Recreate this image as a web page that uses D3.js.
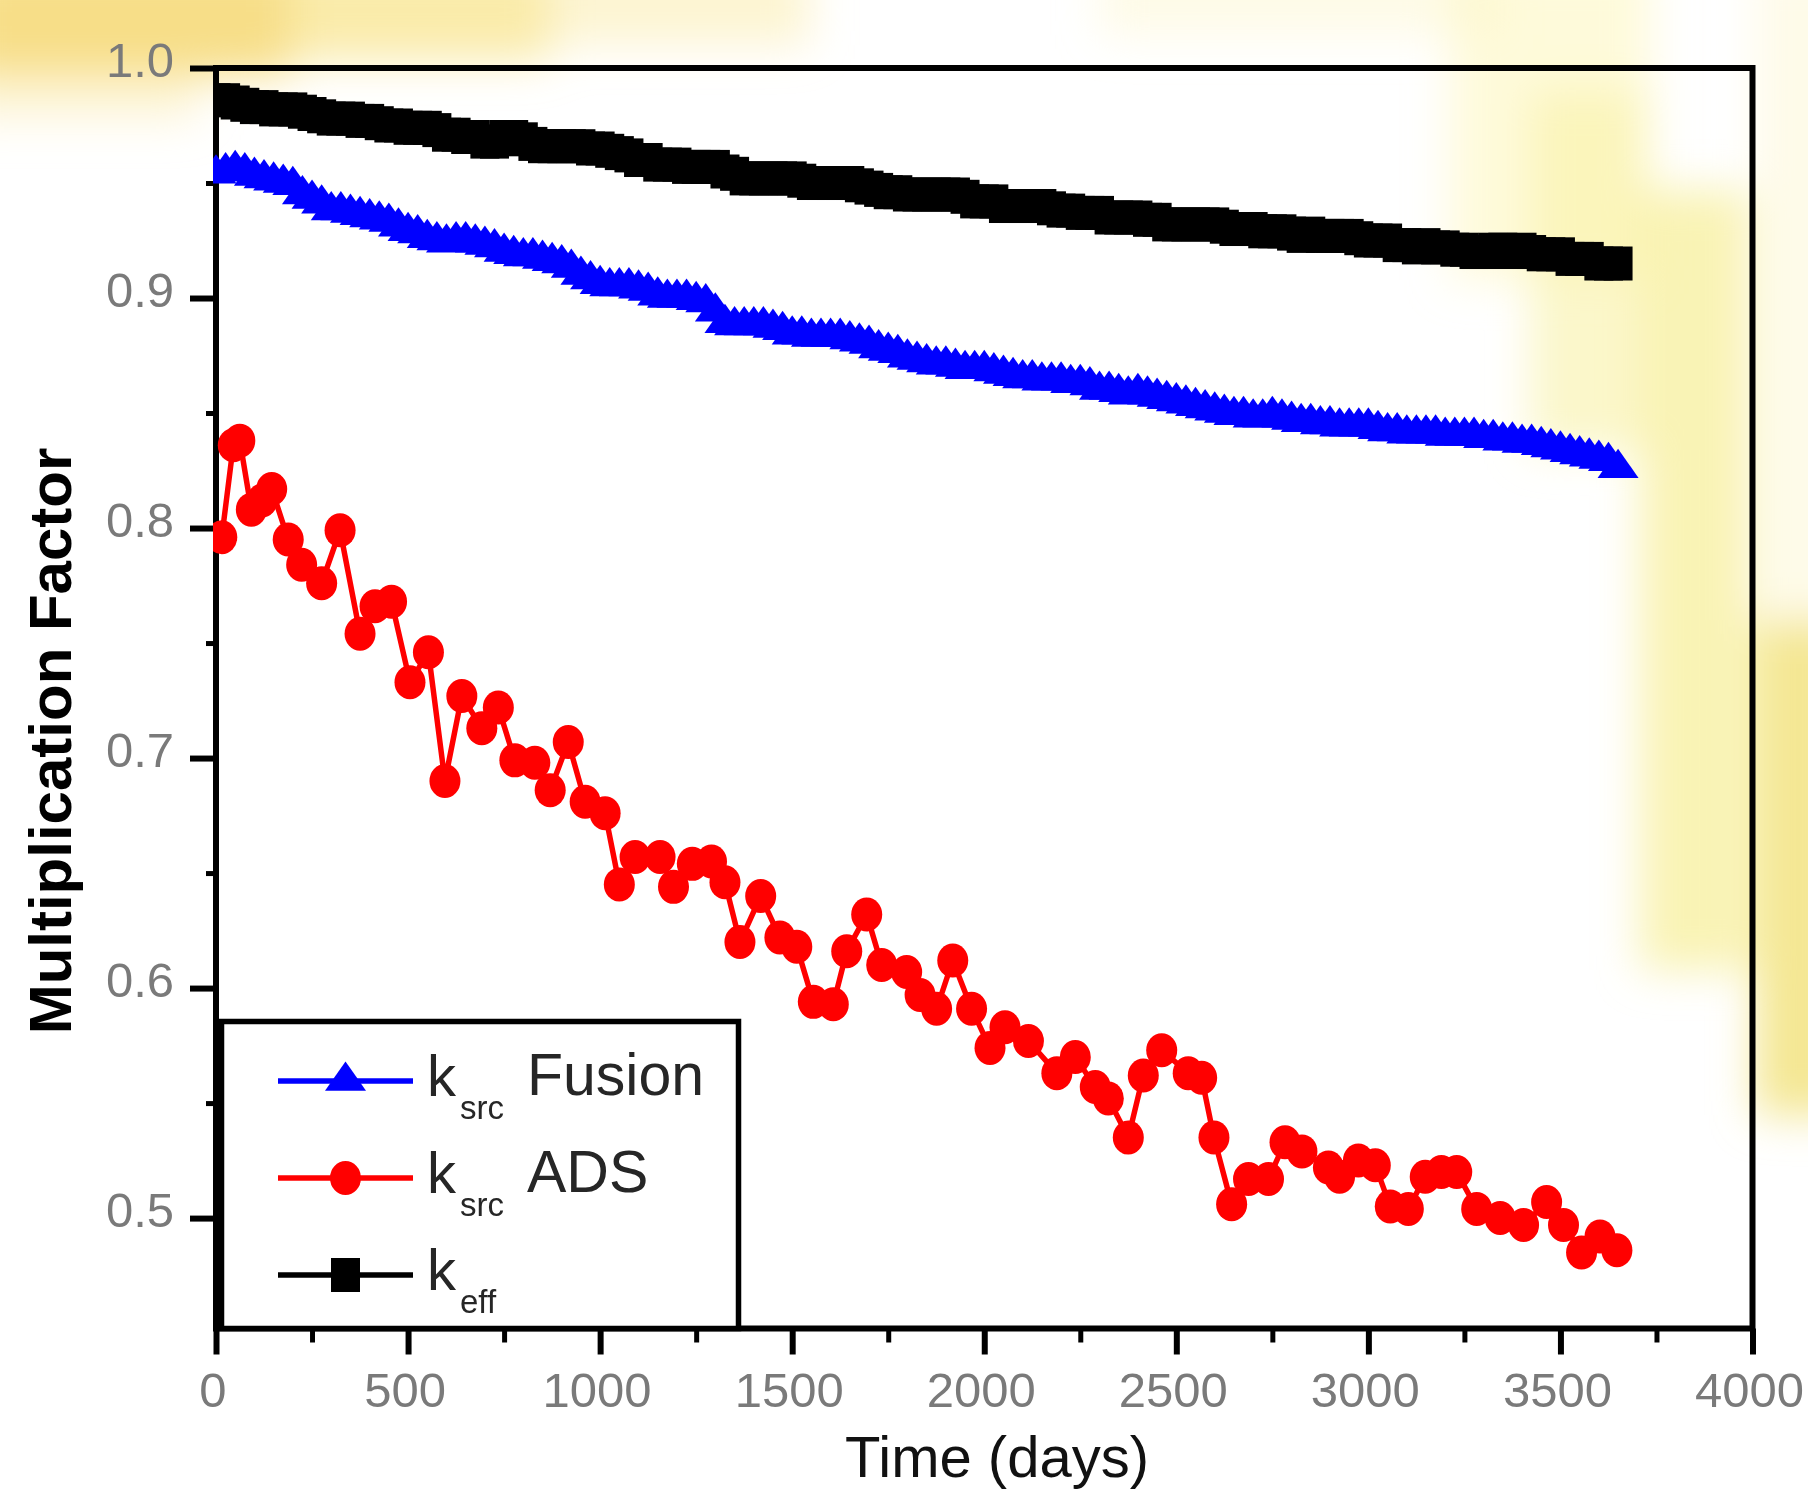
<!DOCTYPE html>
<html>
<head>
<meta charset="utf-8">
<title>Multiplication factor vs time</title>
<script src="https://cdn.jsdelivr.net/npm/d3@7/dist/d3.min.js"></script>
<style>
  html, body { margin: 0; padding: 0; background: #fff; }
  svg { display: block; }
  text { font-family: "Liberation Sans", Arial, "DejaVu Sans", sans-serif; }
</style>
</head>
<body>
<svg id="chart" width="1808" height="1491"></svg>
<script>
// ---------------- data ----------------
// burn-up time steps (days) for k_eff and k_src (fusion)
const days = [
  0, 25, 50, 75, 100, 125, 150, 175,
  200, 225, 250, 275, 300, 325, 350, 375,
  400, 425, 450, 475, 500, 525, 550, 575,
  600, 625, 650, 675, 700, 725, 750, 775,
  800, 825, 850, 875, 900, 925, 950, 975,
  1000, 1025, 1050, 1075, 1100, 1125, 1150, 1175,
  1200, 1225, 1250, 1275, 1300, 1325, 1350, 1375,
  1400, 1425, 1450, 1475, 1500, 1525, 1550, 1575,
  1600, 1625, 1650, 1675, 1700, 1725, 1750, 1775,
  1800, 1825, 1850, 1875, 1900, 1925, 1950, 1975,
  2000, 2025, 2050, 2075, 2100, 2125, 2150, 2175,
  2200, 2225, 2250, 2275, 2300, 2325, 2350, 2375,
  2400, 2425, 2450, 2475, 2500, 2525, 2550, 2575,
  2600, 2625, 2650, 2675, 2700, 2725, 2750, 2775,
  2800, 2825, 2850, 2875, 2900, 2925, 2950, 2975,
  3000, 3025, 3050, 3075, 3100, 3125, 3150, 3175,
  3200, 3225, 3250, 3275, 3300, 3325, 3350, 3375,
  3400, 3425, 3450, 3475, 3500, 3525, 3550, 3575,
  3600, 3625, 3650];

const kEff = [
  0.986, 0.986, 0.985, 0.984, 0.983, 0.983, 0.982, 0.982,
  0.982, 0.981, 0.980, 0.979, 0.978, 0.978, 0.978, 0.977,
  0.977, 0.976, 0.975, 0.975, 0.974, 0.974, 0.974, 0.973,
  0.971, 0.971, 0.970, 0.970, 0.968, 0.968, 0.970, 0.970,
  0.969, 0.967, 0.966, 0.966, 0.966, 0.966, 0.966, 0.965,
  0.965, 0.964, 0.963, 0.962, 0.960, 0.960, 0.958, 0.958,
  0.958, 0.957, 0.957, 0.957, 0.957, 0.955, 0.954, 0.952,
  0.952, 0.952, 0.952, 0.952, 0.952, 0.951, 0.950, 0.950,
  0.950, 0.950, 0.950, 0.949, 0.948, 0.947, 0.946, 0.946,
  0.945, 0.945, 0.945, 0.945, 0.945, 0.945, 0.944, 0.942,
  0.942, 0.942, 0.940, 0.940, 0.940, 0.940, 0.940, 0.939,
  0.938, 0.938, 0.937, 0.937, 0.937, 0.935, 0.935, 0.935,
  0.935, 0.934, 0.934, 0.932, 0.932, 0.932, 0.932, 0.932,
  0.932, 0.931, 0.930, 0.930, 0.930, 0.929, 0.929, 0.929,
  0.928, 0.927, 0.928, 0.927, 0.927, 0.927, 0.927, 0.926,
  0.925, 0.925, 0.925, 0.923, 0.923, 0.922, 0.923, 0.922,
  0.922, 0.921, 0.921, 0.920, 0.920, 0.921, 0.921, 0.920,
  0.921, 0.920, 0.919, 0.919, 0.919, 0.917, 0.917, 0.917,
  0.915, 0.915, 0.915];

const kSrcFusion = [
  0.954, 0.955, 0.956, 0.955, 0.953, 0.952, 0.951, 0.950,
  0.949, 0.945, 0.943, 0.941, 0.938, 0.938, 0.937, 0.936,
  0.935, 0.934, 0.933, 0.931, 0.929, 0.928, 0.926, 0.925,
  0.924, 0.925, 0.925, 0.924, 0.923, 0.922, 0.920, 0.919,
  0.918, 0.918, 0.917, 0.916, 0.915, 0.913, 0.910, 0.908,
  0.906, 0.905, 0.905, 0.905, 0.904, 0.903, 0.901, 0.900,
  0.900, 0.900, 0.899, 0.898, 0.894, 0.889, 0.888, 0.888,
  0.888, 0.888, 0.887, 0.886, 0.884, 0.884, 0.883, 0.883,
  0.883, 0.883, 0.882, 0.881, 0.880, 0.878, 0.877, 0.876,
  0.874, 0.873, 0.872, 0.871, 0.871, 0.870, 0.869, 0.869,
  0.869, 0.868, 0.867, 0.866, 0.865, 0.865, 0.864, 0.864,
  0.864, 0.863, 0.863, 0.862, 0.860, 0.860, 0.859, 0.858,
  0.859, 0.858, 0.857, 0.856, 0.855, 0.854, 0.853, 0.852,
  0.851, 0.850, 0.849, 0.849, 0.848, 0.848, 0.849, 0.848,
  0.847, 0.846, 0.846, 0.845, 0.845, 0.844, 0.844, 0.844,
  0.844, 0.843, 0.842, 0.842, 0.841, 0.841, 0.841, 0.841,
  0.840, 0.840, 0.840, 0.840, 0.839, 0.839, 0.838, 0.838,
  0.837, 0.837, 0.836, 0.835, 0.834, 0.833, 0.832, 0.831,
  0.830, 0.829, 0.826];

// k_src for the ADS, sampled on its own time steps (days)
const adsDays = [15, 45, 62, 92, 120, 145, 188, 223, 275, 323, 375, 414, 457, 505, 553, 596,
  640, 692, 735, 778, 830, 870, 917, 961, 1013, 1050, 1091, 1156, 1191, 1240, 1290, 1325,
  1364, 1418, 1468, 1512, 1555, 1607, 1642, 1694, 1733, 1798, 1833, 1876, 1918, 1967, 2015,
  2054, 2115, 2189, 2237, 2289, 2323, 2375, 2414, 2462, 2531, 2566, 2598, 2644, 2688, 2740,
  2783, 2827, 2896, 2925, 2974, 3018, 3057, 3104, 3148, 3190, 3230, 3282, 3343, 3404, 3464,
  3508, 3555, 3603, 3647];

const kSrcADS = [0.796, 0.836, 0.838, 0.808, 0.812, 0.817, 0.795, 0.784, 0.776, 0.799, 0.754,
  0.766, 0.768, 0.733, 0.746, 0.690, 0.727, 0.713, 0.722, 0.699, 0.698, 0.686, 0.707, 0.681,
  0.676, 0.645, 0.657, 0.657, 0.644, 0.654, 0.655, 0.646, 0.620, 0.640, 0.622, 0.618, 0.594,
  0.593, 0.616, 0.632, 0.610, 0.607, 0.597, 0.591, 0.612, 0.591, 0.574, 0.583, 0.577, 0.563,
  0.570, 0.557, 0.552, 0.535, 0.562, 0.573, 0.563, 0.561, 0.535, 0.506, 0.517, 0.517, 0.533,
  0.529, 0.522, 0.518, 0.525, 0.523, 0.505, 0.504, 0.518, 0.520, 0.520, 0.504, 0.500, 0.497,
  0.507, 0.497, 0.485, 0.492, 0.486];

const xTickValues = [0, 500, 1000, 1500, 2000, 2500, 3000, 3500, 4000];
const xMinorValues = [250, 750, 1250, 1750, 2250, 2750, 3250, 3750];
const yTickValues = [0.5, 0.6, 0.7, 0.8, 0.9, 1.0];
const yMinorValues = [0.55, 0.65, 0.75, 0.85, 0.95];

const legendSubs = ["src", "src", "eff"];
const legendNames = ["Fusion", "ADS", ""];

// ---------------- layout ----------------
const svg = d3.select("#chart");
const frame = { left: 216, right: 1752.5, top: 68, bottom: 1328.5 };

const x = d3.scaleLinear().domain([0, 4000]).range([frame.left, frame.right]);
const y = d3.scaleLinear().domain([0.452, 1.0]).range([frame.bottom, frame.top]);

// ---------------- soft yellow tint of the paper ----------------
const defs = svg.append("defs");
defs.append("filter").attr("id", "soft")
  .attr("filterUnits", "userSpaceOnUse")
  .attr("x", -200).attr("y", -200).attr("width", 2300).attr("height", 1900)
  .append("feGaussianBlur").attr("stdDeviation", 22);
defs.append("clipPath").attr("id", "plotClip")
  .append("rect")
  .attr("x", frame.left - 3).attr("y", frame.top - 3)
  .attr("width", frame.right - frame.left + 6).attr("height", frame.bottom - frame.top + 6);

const tint = svg.append("g").attr("filter", "url(#soft)");
[
  [-40, -40, 330, 115, "#f6d873", 0.85],
  [290, -40, 260, 100, "#f8e285", 0.7],
  [550, -40, 260, 85, "#fbeca5", 0.5],
  [-40, 75, 240, 45, "#fbe9a8", 0.45],
  [1100, -40, 400, 75, "#fdf7cf", 0.5],
  [1450, -40, 200, 320, "#fdf7c6", 0.65],
  [1530, 90, 115, 360, "#f9f1a6", 0.6],
  [1640, 190, 110, 780, "#f6ee96", 0.7],
  [1756, -40, 90, 660, "#fdfae0", 0.7],
  [1756, 620, 90, 495, "#f2e37f", 0.85]
].forEach(([px, py, w, h, c, o]) => {
  tint.append("rect").attr("x", px).attr("y", py).attr("width", w).attr("height", h)
    .attr("fill", c).attr("opacity", o);
});

// ---------------- axes ----------------
// bottom axis: major and minor ticks pointing outward
svg.append("g")
  .attr("transform", `translate(0,${frame.bottom})`)
  .call(d3.axisBottom(x).tickValues(xTickValues).tickSize(26).tickSizeOuter(0).tickFormat(""))
  .call(g => g.select(".domain").remove())
  .call(g => g.selectAll(".tick line").attr("stroke", "#000").attr("stroke-width", 6));
svg.append("g")
  .attr("transform", `translate(0,${frame.bottom})`)
  .call(d3.axisBottom(x).tickValues(xMinorValues).tickSize(14).tickSizeOuter(0).tickFormat(""))
  .call(g => g.select(".domain").remove())
  .call(g => g.selectAll(".tick line").attr("stroke", "#000").attr("stroke-width", 5));

// left axis
svg.append("g")
  .attr("transform", `translate(${frame.left},0)`)
  .call(d3.axisLeft(y).tickValues(yTickValues).tickSize(26).tickSizeOuter(0).tickFormat(""))
  .call(g => g.select(".domain").remove())
  .call(g => g.selectAll(".tick line").attr("stroke", "#000").attr("stroke-width", 6));
svg.append("g")
  .attr("transform", `translate(${frame.left},0)`)
  .call(d3.axisLeft(y).tickValues(yMinorValues).tickSize(10).tickSizeOuter(0).tickFormat(""))
  .call(g => g.select(".domain").remove())
  .call(g => g.selectAll(".tick line").attr("stroke", "#000").attr("stroke-width", 5));

// frame
svg.append("rect")
  .attr("x", frame.left).attr("y", frame.top)
  .attr("width", frame.right - frame.left).attr("height", frame.bottom - frame.top)
  .attr("fill", "none").attr("stroke", "#000").attr("stroke-width", 6);

// tick labels
svg.append("g").selectAll("text").data(xTickValues).join("text")
  .attr("x", d => x(d) - 3).attr("y", 1407)
  .attr("text-anchor", "middle").attr("font-size", 49).attr("fill", "#7a7a7a")
  .text(d => d);
svg.append("g").selectAll("text").data(yTickValues).join("text")
  .attr("x", 174).attr("y", d => y(d) + 8.5)
  .attr("text-anchor", "end").attr("font-size", 49).attr("fill", "#7a7a7a")
  .text(d3.format(".1f"));

// axis titles
svg.append("text")
  .attr("x", 997).attr("y", 1477)
  .attr("text-anchor", "middle").attr("font-size", 58).attr("fill", "#111")
  .text("Time (days)");
svg.append("text")
  .attr("transform", "translate(71,741) rotate(-90)")
  .attr("text-anchor", "middle").attr("font-size", 60).attr("font-weight", "bold")
  .attr("fill", "#000")
  .text("Multiplication Factor");

// ---------------- series ----------------
const markerShapes = {
  triangle: sel => sel.append("path").attr("d", "M0,-19.5L20.5,9.75L-20.5,9.75Z"),
  circle: sel => sel.append("ellipse").attr("rx", 15.5).attr("ry", 17),
  square: sel => sel.append("rect").attr("x", -14.5).attr("y", -17).attr("width", 29).attr("height", 34)
};

const series = [
  { t: days, v: kSrcFusion, color: "#0000ff", shape: "triangle" },
  { t: adsDays, v: kSrcADS, color: "#ff0000", shape: "circle" },
  { t: days, v: kEff, color: "#000000", shape: "square" }
];

const dataG = svg.append("g").attr("clip-path", "url(#plotClip)");
const line = d3.line().x(d => x(d[0])).y(d => y(d[1]));

series.forEach(s => {
  const pts = s.t.map((t, i) => [t, s.v[i]]);
  const g = dataG.append("g");
  g.append("path").datum(pts)
    .attr("d", line).attr("fill", "none")
    .attr("stroke", s.color).attr("stroke-width", 5.5).attr("stroke-linejoin", "miter");
  g.selectAll("g.mk").data(pts).join("g")
    .attr("class", "mk")
    .attr("transform", d => `translate(${x(d[0])},${y(d[1])})`)
    .each(function () { markerShapes[s.shape](d3.select(this)); })
    .selectAll("*").attr("fill", s.color);
});

// ---------------- legend ----------------
const legend = svg.append("g");
legend.append("rect")
  .attr("x", 221.5).attr("y", 1021.5).attr("width", 517).attr("height", 307)
  .attr("fill", "#fff").attr("stroke", "#000").attr("stroke-width", 5.5);

series.forEach((s, i) => {
  const ry = 1081 + i * 97;
  const row = legend.append("g");
  row.append("line")
    .attr("x1", 278).attr("x2", 413).attr("y1", ry).attr("y2", ry)
    .attr("stroke", s.color).attr("stroke-width", 5.5);
  const mk = row.append("g").attr("transform", `translate(345.5,${ry})`);
  markerShapes[s.shape](mk);
  mk.selectAll("*").attr("fill", s.color);
  row.append("text").attr("x", 427).attr("y", ry + 15)
    .attr("font-size", 58).attr("fill", "#262626").text("k");
  row.append("text").attr("x", 460).attr("y", ry + 38)
    .attr("font-size", 33).attr("fill", "#262626").text(legendSubs[i]);
  if (legendNames[i]) {
    row.append("text").attr("x", 527).attr("y", ry + 14)
      .attr("font-size", 59).attr("fill", "#262626").text(legendNames[i]);
  }
});
</script>
</body>
</html>
